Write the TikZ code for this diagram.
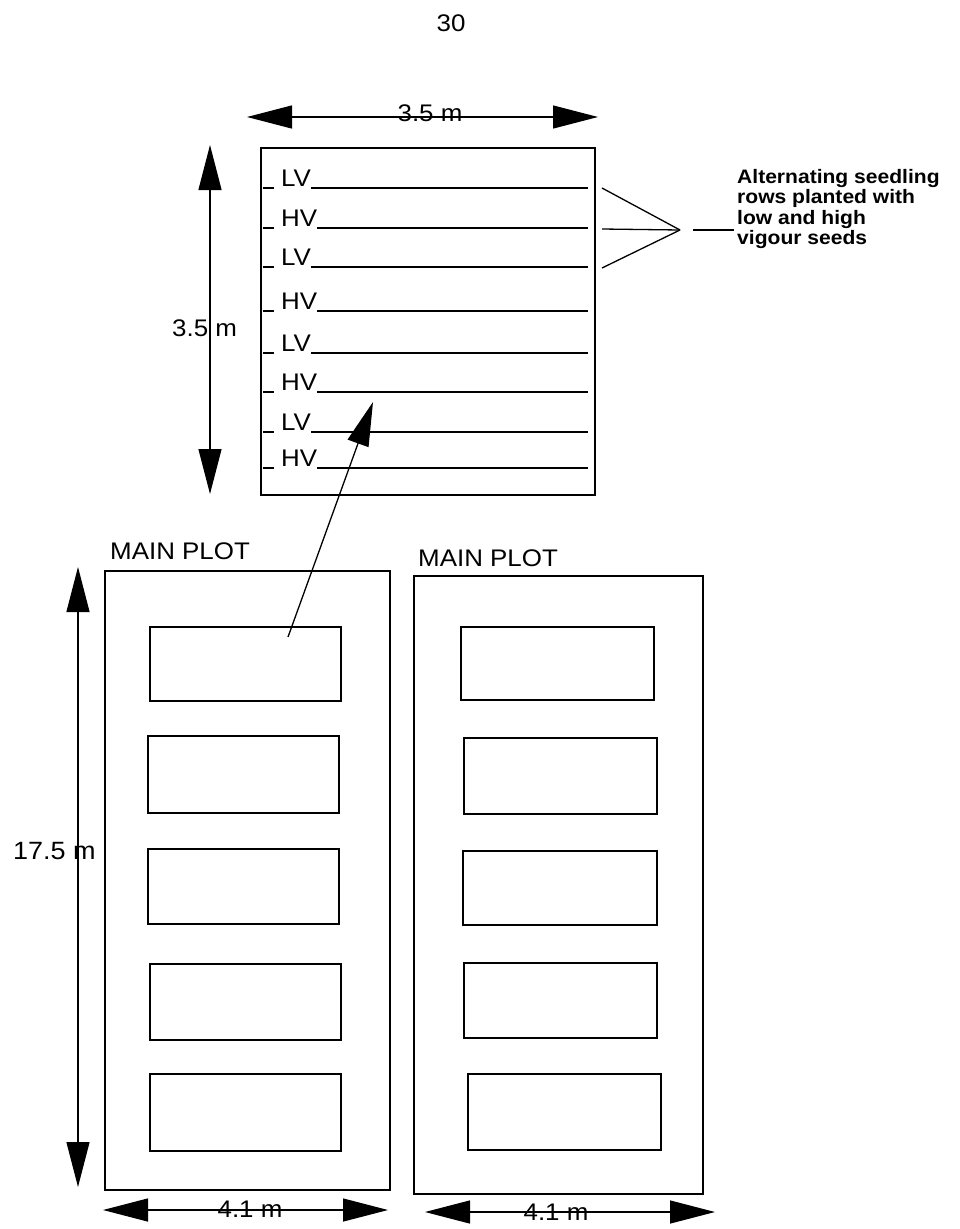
\documentclass[tikz,border=0pt]{standalone}
\usepackage{fontspec}
\setmainfont{Liberation Sans}[FakeStretch=1.08]
\usetikzlibrary{arrows.meta}
\begin{document}
\begin{tikzpicture}[x=1pt,y=-1pt,
  plotbox/.style={draw, line width=1.6pt, inner sep=0pt, anchor=north west},
  rowline/.style={line width=1.3pt},
  rowlab/.style={font=\fontsize{24}{28}\selectfont, inner sep=0pt, anchor=base west},
  lab/.style={font=\fontsize{24}{28}\selectfont, inner sep=0pt},
  dimarrow/.style={line width=1.3pt, {Triangle[length=45pt,width=23pt]}-{Triangle[length=45pt,width=23pt]}},
  ptr/.style={line width=1.3pt, -{Triangle[length=44pt,width=22pt]}},
  note/.style={font=\bfseries\fontsize{19.5}{20.5}\selectfont, inner sep=0pt, anchor=north west, align=left}
]
\useasboundingbox (0,0) rectangle (959,1229);

% page number
\node[lab] (pagenum) at (451,23) {30};

% top detail plot
\node[plotbox, minimum width=334pt, minimum height=347pt] (detail) at (260,147) {};
\foreach \yy/\lbl [count=\i] in {188/LV,228/HV,267/LV,311/HV,353/LV,392/HV,432/LV,468/HV}{
  \draw[rowline] (263,\yy) -- (274,\yy);
  \node[rowlab] (r\i) at (281,\yy-2) {\lbl};
  \draw[rowline] (r\i.base east) ++(0,2) -- (588,\yy);
}

% top dimension 3.5 m
\coordinate (tl) at (247,117);
\coordinate (tr) at (598,117);
\draw[dimarrow] (tl) -- (tr);
\node[lab, anchor=base] (toplab) at (430,121) {3.5 m};

% left dimension 3.5 m
\coordinate (vt) at (210,145);
\coordinate (vb) at (210,494);
\draw[dimarrow] (vt) -- (vb);
\node[lab, anchor=base west] (sidelab) at (172,336) {3.5 m};

% annotation
\coordinate (fan) at (680,230);
\coordinate (a1) at (602,188);
\coordinate (a2) at (602,229);
\coordinate (a3) at (602,268);
\draw[rowline] (a1) -- (fan);
\draw[rowline] (a2) -- (fan);
\draw[rowline] (a3) -- (fan);
\coordinate (n1) at (693,230);
\coordinate (n2) at (734,230);
\draw[rowline] (n1) -- (n2);
\node[note] (notetext) at (737,169) {Alternating seedling\\rows planted with\\low and high\\vigour seeds};

% main plots
\node[lab, anchor=base west] (mp1) at (110,559) {MAIN PLOT};
\node[lab, anchor=base west] (mp2) at (418,566) {MAIN PLOT};
\node[plotbox, minimum width=285pt, minimum height=619pt] (P1) at (104,570) {};
\node[plotbox, minimum width=289pt, minimum height=618pt] (P2) at (413,575) {};

% subplots left
\node[plotbox, minimum width=191pt, minimum height=74pt] (L1) at (149,626) {};
\node[plotbox, minimum width=191pt, minimum height=77pt] (L2) at (147,735) {};
\node[plotbox, minimum width=191pt, minimum height=75pt] (L3) at (147,848) {};
\node[plotbox, minimum width=191pt, minimum height=76pt] (L4) at (149,963) {};
\node[plotbox, minimum width=191pt, minimum height=77pt] (L5) at (149,1073) {};

% subplots right
\node[plotbox, minimum width=193pt, minimum height=73pt] (R1) at (460,626) {};
\node[plotbox, minimum width=193pt, minimum height=76pt] (R2) at (463,737) {};
\node[plotbox, minimum width=194pt, minimum height=74pt] (R3) at (462,850) {};
\node[plotbox, minimum width=193pt, minimum height=75pt] (R4) at (463,962) {};
\node[plotbox, minimum width=193pt, minimum height=76pt] (R5) at (467,1073) {};

% pointer arrow
\coordinate (ptail) at (288,637);
\coordinate (phead) at (373,402);
\draw[ptr] (ptail) -- (phead);

% 17.5 m dimension
\coordinate (lt) at (78,567);
\coordinate (lb) at (78,1187);
\draw[dimarrow] (lt) -- (lb);
\node[lab, anchor=base west, font=\fontsize{25}{28}\selectfont] (longlab) at (13,859) {17.5 m};

% bottom dimensions
\coordinate (b1l) at (103,1210);
\coordinate (b1r) at (388,1210);
\draw[dimarrow] (b1l) -- (b1r);
\node[lab] (w1) at (250,1209) {4.1 m};
\coordinate (b2l) at (425,1212);
\coordinate (b2r) at (715,1212);
\draw[dimarrow] (b2l) -- (b2r);
\node[lab] (w2) at (556,1212) {4.1 m};
\end{tikzpicture}
\end{document}
